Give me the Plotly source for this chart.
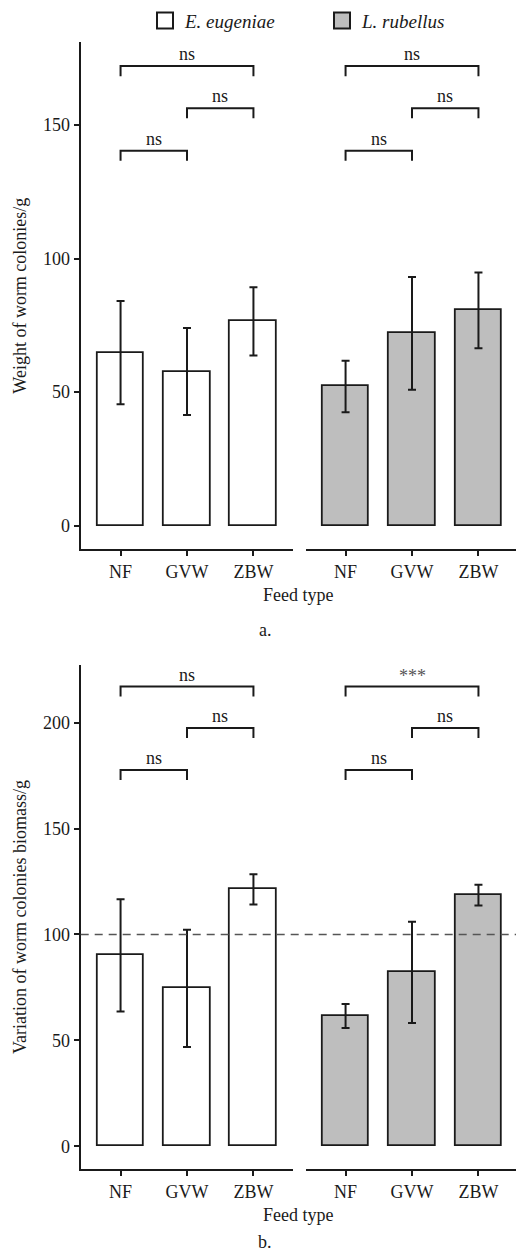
import plotly.graph_objects as go

W, H = 516, 1254

categories = ["NF", "GVW", "ZBW"]
species = ["E. eugeniae", "L. rubellus"]

# Panel a: weight of worm colonies (g) – mean and error bar ends
weight_ee = [64.6, 57.6, 76.6]
weight_ee_hi = [84.1, 74.0, 89.2]
weight_ee_lo = [45.4, 41.4, 63.7]
weight_lr = [52.1, 72.0, 80.6]
weight_lr_hi = [61.7, 93.1, 94.8]
weight_lr_lo = [42.4, 50.9, 66.4]

# Panel b: variation of worm colonies biomass (g)
var_ee = [90.1, 74.6, 121.3]
var_ee_hi = [116.6, 102.2, 128.4]
var_ee_lo = [63.7, 46.9, 114.2]
var_lr = [61.7, 82.2, 118.8]
var_lr_hi = [67.2, 106.0, 123.5]
var_lr_lo = [55.8, 58.2, 113.7]

# Pairwise comparisons (category index pairs), bracket heights and labels
pairs = [(0, 2), (1, 2), (0, 1)]
weight_bracket_y = [172.1, 156.3, 140.4]
weight_labels_ee = ["ns", "ns", "ns"]
weight_labels_lr = ["ns", "ns", "ns"]
var_bracket_y = [217.0, 197.5, 177.6]
var_labels_ee = ["ns", "ns", "ns"]
var_labels_lr = ["***", "ns", "ns"]
reference_line = 100

y_ticks_a = [0, 50, 100, 150]
y_ticks_b = [0, 50, 100, 150, 200]

FONT = "Liberation Serif, Times New Roman, serif"
INK = "#1a1a1a"
GREY = "#bebebe"
xpos = [1, 2, 3]

fig = go.Figure()


def add_bars(vals, hi, lo, color, xa, ya, name):
    fig.add_trace(go.Bar(
        x=xpos, y=vals, width=0.7, xaxis=xa, yaxis=ya, name=name,
        marker=dict(color=color, line=dict(color=INK, width=1.8)),
        error_y=dict(type="data", symmetric=False,
                     array=[h - v for h, v in zip(hi, vals)],
                     arrayminus=[v - l for v, l in zip(vals, lo)],
                     color=INK, thickness=2, width=4),
        showlegend=False))


def add_brackets(heights, labels, tick, xa, ya):
    for (i, j), h, lab in zip(pairs, heights, labels):
        fig.add_trace(go.Scatter(
            x=[xpos[i], xpos[i], xpos[j], xpos[j]], y=[h - tick, h, h, h - tick],
            mode="lines", line=dict(color=INK, width=2), xaxis=xa, yaxis=ya,
            showlegend=False, hoverinfo="skip", cliponaxis=False))
        fig.add_annotation(x=(xpos[i] + xpos[j]) / 2, y=h, xref=xa, yref=ya,
                           text=lab, showarrow=False, yanchor="middle",
                           yshift=12 if lab == "ns" else 11,
                           font=dict(family=FONT, size=18,
                                     color=INK if lab == "ns" else "#555555"))


add_bars(weight_ee, weight_ee_hi, weight_ee_lo, "white", "x", "y", species[0])
add_bars(weight_lr, weight_lr_hi, weight_lr_lo, GREY, "x2", "y2", species[1])
add_bars(var_ee, var_ee_hi, var_ee_lo, "white", "x3", "y3", species[0])
add_bars(var_lr, var_lr_hi, var_lr_lo, GREY, "x4", "y4", species[1])

add_brackets(weight_bracket_y, weight_labels_ee, 3.8, "x", "y")
add_brackets(weight_bracket_y, weight_labels_lr, 3.8, "x2", "y2")
add_brackets(var_bracket_y, var_labels_ee, 4.7, "x3", "y3")
add_brackets(var_bracket_y, var_labels_lr, 4.7, "x4", "y4")

# legend entries
for name, color in zip(species, ["white", GREY]):
    fig.add_trace(go.Scatter(
        x=[None], y=[None], mode="markers", name="<i>%s</i>" % name,
        marker=dict(symbol="square", size=16, color=color,
                    line=dict(color=INK, width=2)),
        showlegend=True))

xl = [80.7 / W, 293.3 / W]
xr = [305.7 / W, 1.0]
yt = [1 - 549.3 / H, 1 - 42 / H]
yb = [1 - 1169 / H, 1 - 665 / H]

tickfont = dict(family=FONT, size=18, color=INK)
xcommon = dict(tickmode="array", tickvals=xpos, ticktext=categories,
               showline=True, linecolor=INK, linewidth=2, ticks="outside",
               ticklen=5, tickwidth=2, tickcolor=INK, tickfont=tickfont,
               showgrid=False, zeroline=False, fixedrange=True)
ycommon = dict(showgrid=False, zeroline=False, fixedrange=True)

fig.update_layout(
    width=W, height=H, margin=dict(l=0, r=0, t=0, b=0),
    paper_bgcolor="white", plot_bgcolor="white",
    font=dict(family=FONT, color=INK),
    bargap=0,
    xaxis=dict(domain=xl, range=[0.4, 3.6], anchor="y", **xcommon),
    xaxis2=dict(domain=xr, range=[0.4, 3.565], anchor="y2", **xcommon),
    xaxis3=dict(domain=xl, range=[0.4, 3.6], anchor="y3", **xcommon),
    xaxis4=dict(domain=xr, range=[0.4, 3.565], anchor="y4", **xcommon),
    yaxis=dict(domain=yt, range=[-8.9, 181.1], anchor="x", tickmode="array",
               tickvals=y_ticks_a, showline=True, linecolor=INK, linewidth=2,
               ticks="outside", ticklen=5, tickwidth=2, tickcolor=INK,
               tickfont=tickfont,
               title=dict(text="Weight of worm colonies/g",
                          font=dict(family=FONT, size=18, color=INK), standoff=12),
               **ycommon),
    yaxis2=dict(domain=yt, range=[-8.9, 181.1], anchor="x2", showticklabels=False,
                showline=False, **ycommon),
    yaxis3=dict(domain=yb, range=[-10.7, 227.2], anchor="x3", tickmode="array",
                tickvals=y_ticks_b, showline=True, linecolor=INK, linewidth=2,
                ticks="outside", ticklen=5, tickwidth=2, tickcolor=INK,
                tickfont=tickfont,
                title=dict(text="Variation of worm colonies biomass/g",
                           font=dict(family=FONT, size=18, color=INK), standoff=12),
                **ycommon),
    yaxis4=dict(domain=yb, range=[-10.7, 227.2], anchor="x4", showticklabels=False,
                showline=False, **ycommon),
    legend=dict(orientation="h", x=145 / W, xanchor="left", y=1 - 20.7 / H,
                yanchor="middle", font=dict(family=FONT, size=19, color=INK),
                entrywidth=132, entrywidthmode="pixels", bgcolor="rgba(0,0,0,0)",
                traceorder="normal"),
    showlegend=True,
)

# dashed reference line across both lower panels
fig.add_shape(type="line", xref="paper", yref="y3", x0=xl[0], x1=1.0,
              y0=reference_line, y1=reference_line,
              line=dict(color="#555555", width=1.6, dash="8px,6px"), layer="above")

for txt, ypix, anchor in [("Feed type", 595, "middle"), ("a.", 630, "middle"),
                          ("Feed type", 1215, "middle"), ("b.", 1254, "bottom")]:
    fig.add_annotation(text=txt, x=(298 if txt == "Feed type" else 265) / W,
                       y=1 - ypix / H, xref="paper", yref="paper", showarrow=False,
                       xanchor="center", yanchor=anchor,
                       font=dict(family=FONT, size=18, color=INK))

fig.write_html("out.html",
               config={"displayModeBar": False},
               post_script="document.body.style.margin='0';"
                           "document.body.style.padding='0';")
